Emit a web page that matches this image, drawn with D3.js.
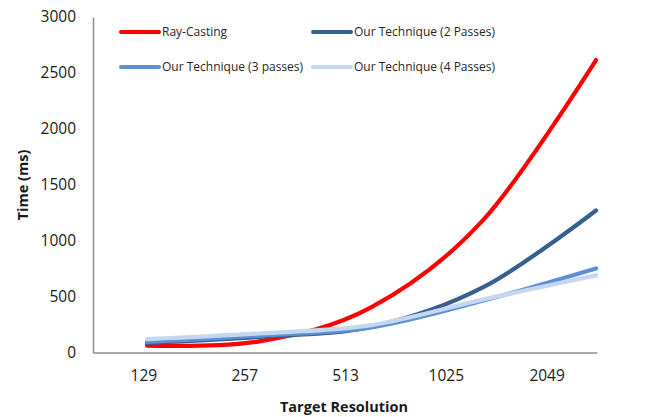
<!DOCTYPE html>
<html><head><meta charset="utf-8">
<script src="https://cdn.jsdelivr.net/npm/d3@7"></script>
<style>body{margin:0;background:#fff}svg{display:block}text{font-family:"Open Sans",sans-serif}</style>
</head><body>
<svg id="c" width="657" height="417"></svg>
<script>
const categories = ["129","257","513","1025","2049"];
const rayCasting = [62, 100, 405, 1190, 2615];
const passes2 = [85, 140, 230, 586, 1270];
const passes3 = [95, 150, 225, 465, 752];
const passes4 = [120, 170, 245, 475, 690];
const yTicks = [0,500,1000,1500,2000,2500,3000];
const seriesNames = ["Ray-Casting","Our Technique (2 Passes)","Our Technique (3 passes)","Our Technique (4 Passes)"];
const seriesColors = ["#FF0000","#375F8F","#5B8FD6","#C5D7EE"];
const seriesData = [rayCasting, passes2, passes3, passes4];

const svg = d3.select("#c");
const y = d3.scaleLinear().domain([0,3000]).range([352.5,17]);
const xLine = d3.scalePoint().domain(categories).range([147,596]);
const xLab = d3.scalePoint().domain(categories).range([93,597]).padding(0.5);

// axes
const yAxis = svg.append("g").attr("transform","translate(93,0)")
  .call(d3.axisLeft(y).tickValues(yTicks).tickFormat(d3.format("d")).tickSize(0).tickPadding(17));
yAxis.select(".domain").attr("stroke","#8c8c8c").attr("stroke-width",1.5);
yAxis.selectAll("text").attr("font-size",15.5).attr("fill","#1a1a1a").attr("font-family","Open Sans");

const xAxis = svg.append("g").attr("transform","translate(0,352.5)")
  .call(d3.axisBottom(xLab).tickSize(0).tickPadding(17));
xAxis.select(".domain").attr("stroke","#8c8c8c").attr("stroke-width",1.5);
xAxis.selectAll("text").attr("font-size",15.5).attr("fill","#1a1a1a").attr("font-family","Open Sans");

svg.append("text").attr("x",344).attr("y",412).attr("text-anchor","middle")
  .attr("font-size",14.5).attr("font-weight","bold").attr("fill","#1a1a1a").text("Target Resolution");
svg.append("text").attr("transform","translate(28,185) rotate(-90)").attr("text-anchor","middle")
  .attr("font-size",14.5).attr("font-weight","bold").attr("fill","#1a1a1a").text("Time (ms)");

// lines
const line = d3.line().x((d,i)=>xLine(categories[i])).y(d=>y(d)).curve(d3.curveCatmullRom.alpha(0));
seriesData.forEach((s,k)=>{
  svg.append("path").attr("d",line(s)).attr("fill","none")
    .attr("stroke",seriesColors[k]).attr("stroke-width",4.2).attr("stroke-linecap","round");
});

// legend
const legPos = [[121,32],[313,32],[121,67],[313,67]];
seriesNames.forEach((n,k)=>{
  const g = svg.append("g").attr("transform",`translate(${legPos[k][0]},${legPos[k][1]})`);
  g.append("line").attr("x1",0).attr("x2",38).attr("y1",0).attr("y2",0)
    .attr("stroke",seriesColors[k]).attr("stroke-width",4).attr("stroke-linecap","round");
  g.append("text").attr("x",41).attr("y",0).attr("dy","0.35em").attr("font-size",12)
    .attr("fill","#262626").text(n);
});
</script>
</body></html>
